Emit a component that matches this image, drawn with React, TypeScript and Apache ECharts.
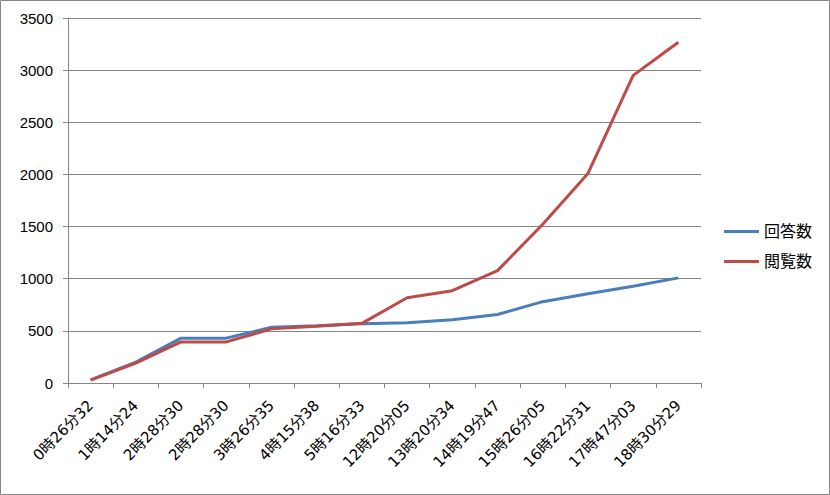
import React, { useEffect, useRef } from "react";
import * as echarts from "echarts";

const categories = [
  "0時26分32", "1時14分24", "2時28分30", "2時28分30", "3時26分35", "4時15分38", "5時16分33",
  "12時20分05", "13時20分34", "14時19分47", "15時26分05", "16時22分31", "17時47分03", "18時30分29",
];
const answers = [30, 200, 430, 430, 535, 550, 568, 577, 606, 657, 780, 856, 928, 1008];
const views = [28, 190, 394, 394, 519, 545, 572, 817, 885, 1078, 1522, 2010, 2950, 3268];
const seriesNames = ["回答数", "閲覧数"];
const yTicks = { min: 0, max: 3500, interval: 500 };

const FONT = "'DejaVu Sans', 'Noto Sans CJK JP', sans-serif";
const FONT2 = "'Liberation Sans', 'Noto Sans CJK JP', sans-serif";

export default function App() {
  const ref = useRef<HTMLDivElement>(null);
  useEffect(() => {
    document.body.style.margin = "0";
    const chart = echarts.init(ref.current!, null, { renderer: "svg" });
    chart.setOption({
      animation: false,
      backgroundColor: "#ffffff",
      grid: { left: 68, right: 129, top: 18, bottom: 112, containLabel: false },
      legend: {
        orient: "vertical",
        left: 724,
        top: 223,
        padding: 0,
        itemWidth: 35,
        itemHeight: 3,
        itemGap: 13,
        icon: "rect",
        textStyle: { fontFamily: FONT2, fontSize: 16, lineHeight: 17, color: "#000" },
        data: seriesNames,
      },
      xAxis: {
        type: "category",
        data: categories,
        boundaryGap: true,
        axisLine: { lineStyle: { color: "#868686", width: 1 } },
        axisTick: { show: true, length: 5, lineStyle: { color: "#868686" } },
        axisLabel: {
          rotate: 45,
          interval: 0,
          margin: 20,
          color: "#000",
          fontFamily: FONT,
          fontSize: 15,
        },
        splitLine: { show: false },
      },
      yAxis: {
        type: "value",
        min: yTicks.min,
        max: yTicks.max,
        interval: yTicks.interval,
        axisLine: { show: true, lineStyle: { color: "#868686", width: 1 } },
        axisTick: { show: true, length: 5, lineStyle: { color: "#868686" } },
        axisLabel: {
          color: "#000",
          fontFamily: FONT2,
          fontSize: 15,
          margin: 15,
          formatter: (v: number) => String(v),
        },
        splitLine: { show: true, lineStyle: { color: "#868686", width: 1 } },
      },
      series: [
        {
          name: seriesNames[0],
          type: "line",
          data: answers,
          symbol: "none",
          lineStyle: { color: "#4A7EBB", width: 3 },
          itemStyle: { color: "#4A7EBB" },
        },
        {
          name: seriesNames[1],
          type: "line",
          data: views,
          symbol: "none",
          lineStyle: { color: "#BE4B48", width: 3 },
          itemStyle: { color: "#BE4B48" },
        },
      ],
      graphic: [
        {
          type: "rect",
          shape: { x: 0.5, y: 0.5, width: 829, height: 494 },
          style: { fill: "none", stroke: "#868686", lineWidth: 1 },
          silent: true,
        },
      ],
    });
    return () => chart.dispose();
  }, []);
  return <div ref={ref} style={{ position: "absolute", left: 0, top: 0, width: 830, height: 495 }} />;
}
